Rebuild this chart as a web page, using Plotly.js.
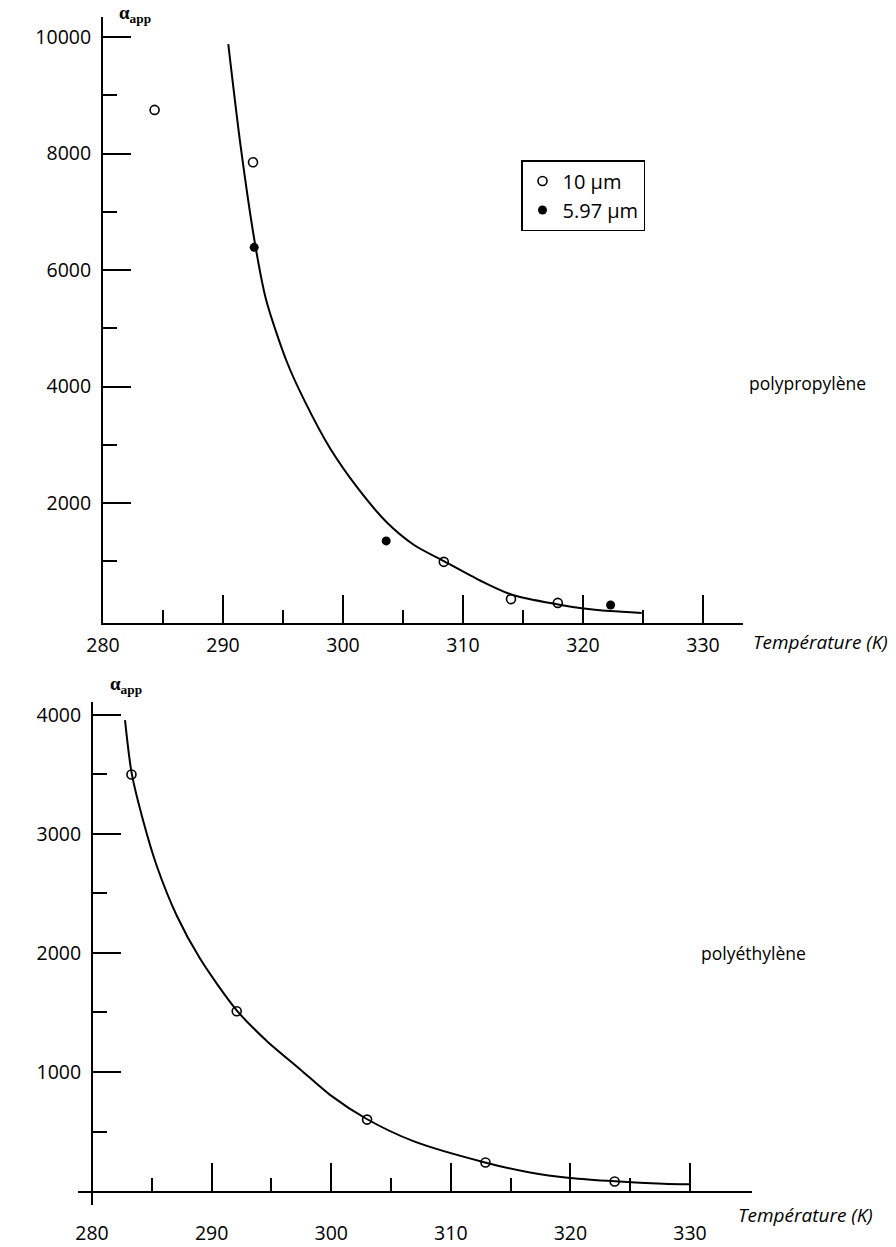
<!DOCTYPE html>
<html>
<head>
<meta charset="utf-8">
<script src="https://cdn.plot.ly/plotly-3.0.1.min.js"></script>
<style>html,body{margin:0;padding:0;background:#fff;}#chart{width:896px;height:1247px;}</style>
</head>
<body>
<div id="chart"></div>
<script>
// ---- Top chart: polypropylène ----
const ppTemp10 = [284.3, 292.5, 308.4, 314.0, 317.9];
const ppAlpha10 = [8750, 7850, 990, 350, 285];
const ppTemp597 = [292.6, 303.6, 322.3];
const ppAlpha597 = [6390, 1350, 250];
const ppCurveTemp = [290.44, 291.5, 292.71, 293.58, 295.31, 296.83, 298.92, 301.25, 303.64, 305.92, 308.44, 311.42, 314.08, 317.92, 319.92, 322.25, 324.89];
const ppCurveAlpha = [9880, 8080, 6400, 5500, 4430, 3740, 2940, 2250, 1670, 1280, 1000, 670, 425, 258, 192, 144, 113];

// ---- Bottom chart: polyéthylène ----
const peTemp = [283.3, 292.1, 303.0, 312.9, 323.7];
const peAlpha = [3500, 1510, 600, 240, 80];
const peCurveTemp = [282.76, 283.32, 284.29, 285.41, 287.08, 289.03, 292.10, 294.61, 297.39, 299.90, 302.97, 306.87, 312.86, 316.62, 319.97, 323.73, 327.77, 330.0];
const peCurveAlpha = [3956, 3509, 3107, 2733, 2315, 1953, 1518, 1261, 1024, 808, 605, 419, 240, 156, 110, 82, 62, 57];

// ---- Tick values / labels ----
const xTickVals = [280, 290, 300, 310, 320, 330];
const xTickText = ['280', '290', '300', '310', '320', '330'];
const xMinorVals = [285, 295, 305, 315, 325];
const ppYTickVals = [2000, 4000, 6000, 8000, 10000];
const ppYTickText = ['2000', '4000', '6000', '8000', '10000'];
const ppYMinorVals = [1000, 3000, 5000, 7000, 9000];
const peYTickVals = [1000, 2000, 3000, 4000];
const peYTickText = ['1000', '2000', '3000', '4000'];
const peYMinorVals = [500, 1500, 2500, 3500];
const legendNames = ['10 µm', '5.97 µm'];

const W = 896, H = 1247;
const px = v => v / W;
const py = v => (H - v) / H;
const FONT = 'Open Sans, Liberation Sans, sans-serif';

const traces = [
  {x: ppCurveTemp, y: ppCurveAlpha, xaxis: 'x', yaxis: 'y', mode: 'lines',
   line: {color: '#000', width: 2, shape: 'spline', smoothing: 0.8}, showlegend: false, hoverinfo: 'skip'},
  {x: ppTemp10, y: ppAlpha10, xaxis: 'x', yaxis: 'y', mode: 'markers', name: legendNames[0],
   marker: {symbol: 'circle-open', size: 9, color: '#000', line: {width: 1.6, color: '#000'}}},
  {x: ppTemp597, y: ppAlpha597, xaxis: 'x', yaxis: 'y', mode: 'markers', name: legendNames[1],
   marker: {symbol: 'circle', size: 9, color: '#000'}},
  {x: peCurveTemp, y: peCurveAlpha, xaxis: 'x2', yaxis: 'y2', mode: 'lines',
   line: {color: '#000', width: 2, shape: 'spline', smoothing: 0.8}, showlegend: false, hoverinfo: 'skip'},
  {x: peTemp, y: peAlpha, xaxis: 'x2', yaxis: 'y2', mode: 'markers', showlegend: false,
   marker: {symbol: 'circle-open', size: 9, color: '#000', line: {width: 1.6, color: '#000'}}}
];

const commonX = {
  tickmode: 'array', tickvals: xTickVals, ticktext: xTickText,
  ticks: 'inside', ticklen: 28, tickwidth: 2, tickcolor: '#000',
  minor: {tickmode: 'array', tickvals: xMinorVals, ticks: 'inside', ticklen: 13, tickwidth: 2, tickcolor: '#000', showgrid: false},
  showline: true, linewidth: 2, linecolor: '#000', showgrid: false, zeroline: false,
  tickfont: {family: FONT, size: 19.5, color: '#000'}
};
const commonY = {
  ticks: 'inside', ticklen: 28, tickwidth: 2, tickcolor: '#000',
  showline: true, linewidth: 2, linecolor: '#000', showgrid: false, zeroline: false,
  tickfont: {family: FONT, size: 19.5, color: '#000'}, ticklabelstandoff: 6
};

const layout = {
  width: W, height: H,
  margin: {l: 0, r: 0, t: 0, b: 0},
  paper_bgcolor: '#fff', plot_bgcolor: 'rgba(0,0,0,0)',
  showlegend: true,
  legend: {x: px(521), y: py(160), xanchor: 'left', yanchor: 'top',
    bordercolor: '#000', borderwidth: 1.5, bgcolor: '#fff',
    font: {family: FONT, size: 20, color: '#000'}, tracegroupgap: 0, itemwidth: 30},
  xaxis: Object.assign({}, commonX, {domain: [px(103), px(743)], range: [280, 280 + (743 - 103) / 12],
    anchor: 'y', ticklabelstandoff: 4}),
  yaxis: Object.assign({}, commonY, {domain: [py(623), py(17)], range: [-60, 10345], anchor: 'x',
    tickmode: 'array', tickvals: ppYTickVals, ticktext: ppYTickText,
    minor: {tickmode: 'array', tickvals: ppYMinorVals, ticks: 'inside', ticklen: 14, tickwidth: 2, tickcolor: '#000', showgrid: false}}),
  xaxis2: Object.assign({}, commonX, {domain: [px(78), px(752)], range: [280 + (78 - 92) / 11.96, 280 + (752 - 92) / 11.96],
    anchor: 'free', position: py(1192), ticklabelstandoff: 24}),
  yaxis2: Object.assign({}, commonY, {domain: [py(1205), py(702)], range: [-117.6, 4109], anchor: 'free', position: px(92),
    tickmode: 'array', tickvals: peYTickVals, ticktext: peYTickText,
    minor: {tickmode: 'array', tickvals: peYMinorVals, ticks: 'inside', ticklen: 14, tickwidth: 2, tickcolor: '#000', showgrid: false}}),
  annotations: [
    {xref: 'paper', yref: 'paper', x: px(117), y: py(14), xanchor: 'left', yanchor: 'middle', showarrow: false,
     text: '<b>α<sub>app</sub></b>', font: {family: 'Liberation Serif, serif', size: 19, color: '#000'}},
    {xref: 'paper', yref: 'paper', x: px(108), y: py(685), xanchor: 'left', yanchor: 'middle', showarrow: false,
     text: '<b>α<sub>app</sub></b>', font: {family: 'Liberation Serif, serif', size: 19, color: '#000'}},
    {xref: 'paper', yref: 'paper', x: px(747), y: py(383), xanchor: 'left', yanchor: 'middle', showarrow: false,
     text: 'polypropylène', font: {family: FONT, size: 17.5, color: '#000'}},
    {xref: 'paper', yref: 'paper', x: px(699), y: py(953), xanchor: 'left', yanchor: 'middle', showarrow: false,
     text: 'polyéthylène', font: {family: FONT, size: 17.5, color: '#000'}},
    {xref: 'paper', yref: 'paper', x: px(751), y: py(642), xanchor: 'left', yanchor: 'middle', showarrow: false,
     text: '<i>Température (K)</i>', font: {family: FONT, size: 19, color: '#000'}},
    {xref: 'paper', yref: 'paper', x: px(736), y: py(1215), xanchor: 'left', yanchor: 'middle', showarrow: false,
     text: '<i>Température (K)</i>', font: {family: FONT, size: 19, color: '#000'}}
  ]
};

Plotly.newPlot('chart', traces, layout, {staticPlot: true, displayModeBar: false});
</script>
</body>
</html>
